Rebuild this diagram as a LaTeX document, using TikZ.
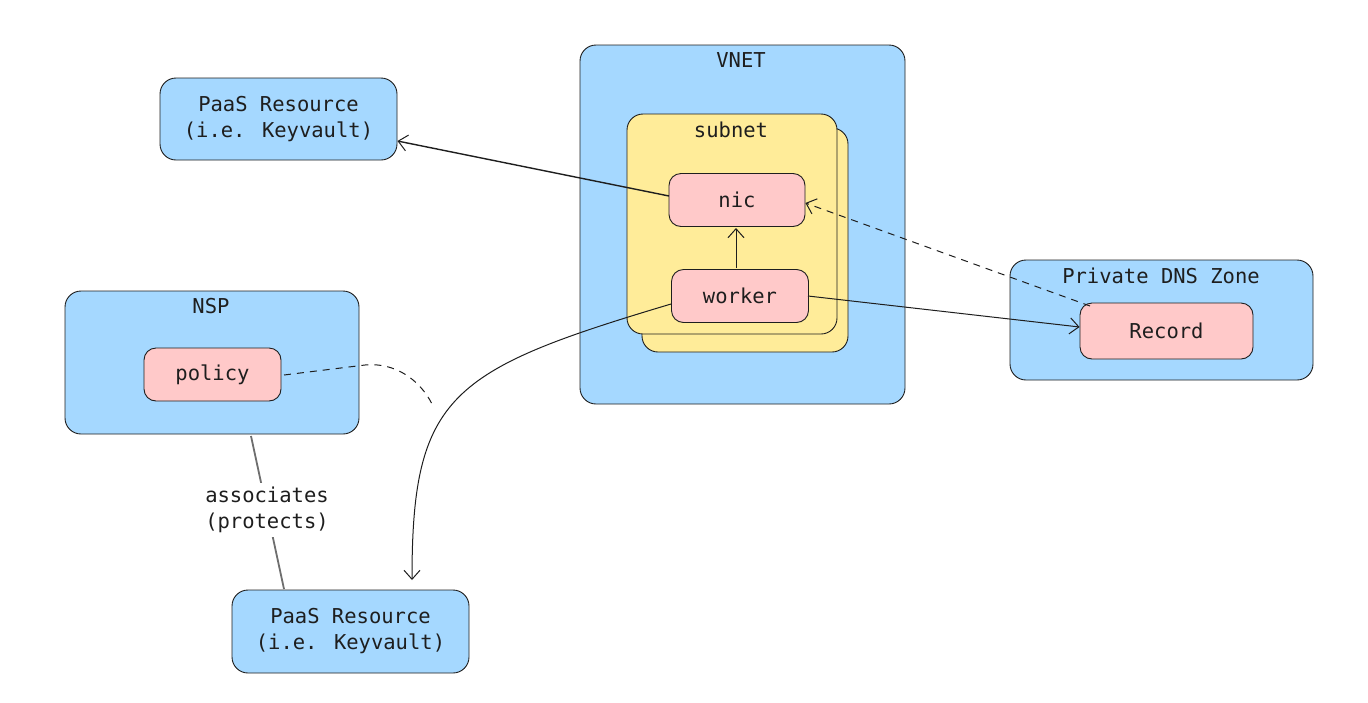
\documentclass[tikz,border=0pt]{standalone}
\usepackage{fontspec}
\setmainfont{DejaVu Sans Mono}
\usetikzlibrary{arrows.meta}
\definecolor{bluefill}{HTML}{A5D8FF}
\definecolor{yellowfill}{HTML}{FFEC99}
\definecolor{pinkfill}{HTML}{FFC9C9}
\definecolor{ink}{HTML}{1E1E1E}
\definecolor{grayline}{HTML}{6E6E6E}
\tikzset{
  box/.style={draw=ink, line width=0.9pt, rounded corners=16pt},
  bluebox/.style={box, fill=bluefill},
  yellowbox/.style={box, fill=yellowfill},
  pinkbox/.style={draw=ink, line width=0.9pt, rounded corners=12pt, fill=pinkfill},
  lbl/.style={font=\fontsize{20.5}{26}\selectfont, text=ink, align=center, inner sep=0pt},
  conn/.style={draw=ink, line width=1pt, -{Straight Barb[length=9pt,width=16pt,line width=1pt]}},
}
\begin{document}
\begin{tikzpicture}[x=1pt,y=-1pt]
\useasboundingbox (0,0) rectangle (1368,702);
% VNET
\draw[bluebox] (580,45) rectangle (905,404);
\node[lbl] (vnetlbl) at (741,60) {VNET};
% subnet stack
\draw[yellowbox] (642,128) rectangle (848,352);
\draw[yellowbox] (627,114) rectangle (837,334);
\node[lbl] (subnetlbl) at (731,130) {subnet};
% nic, worker
\node[pinkbox, minimum width=136pt, minimum height=53pt, lbl] (nic) at (737,200) {nic};
\node[pinkbox, minimum width=137pt, minimum height=53pt, lbl] (worker) at (740,296) {worker};
% PaaS top
\node[bluebox, minimum width=237pt, minimum height=82pt, lbl] (paas1) at (278.5,119) {PaaS Resource\\(i.e. Keyvault)};
% NSP
\draw[bluebox] (65,291) rectangle (359,434);
\node[lbl] (nsplbl) at (211,306) {NSP};
\node[pinkbox, minimum width=137pt, minimum height=53pt, lbl] (policy) at (212.5,374.5) {policy};
% DNS zone
\draw[bluebox] (1010,260) rectangle (1313,380);
\node[lbl] (dnslbl) at (1161,276) {Private DNS Zone};
\node[pinkbox, minimum width=173pt, minimum height=56pt, lbl] (record) at (1166.5,331) {Record};
% PaaS bottom
\node[bluebox, minimum width=237pt, minimum height=83pt, lbl] (paas2) at (350.5,631.5) {PaaS Resource\\(i.e. Keyvault)};
% connectors
\coordinate (nicw) at (669,196);
\draw[conn, line width=1.4pt] (nicw) -- (paas1.east |- 0,141);
\coordinate (workern) at (736,268);
\coordinate (nics) at (736,228);
\draw[conn] (workern) -- (nics);
\coordinate (recnw) at (1090,306);
\draw[conn, dashed, dash pattern=on 7pt off 6pt] (recnw) -- (nic.east |- 0,203);
\coordinate (workere) at (808,296);
\draw[conn] (workere) -- (record.west |- 0,327);
\coordinate (workerw) at (671,304);
\coordinate (paas2top) at (412,580);
\draw[conn] (workerw) .. controls (450,370) and (412,395) .. (paas2top);
% policy dashed
\coordinate (pole) at (284,375);
\coordinate (dashend) at (432,404);
\draw[draw=ink, line width=1pt, dashed, dash pattern=on 7pt off 6pt] (pole) -- (365,365) .. controls (395,362) and (420,380) .. (dashend);
% associates
\coordinate (nspb) at (251,436);
\coordinate (paas2tl) at (284,589);
\draw[draw=grayline, line width=1.8pt] (nspb) -- (paas2tl);
\node[lbl, fill=white, inner sep=4pt] (assoc) at (267,510) {associates\\(protects)};
\end{tikzpicture}
\end{document}
